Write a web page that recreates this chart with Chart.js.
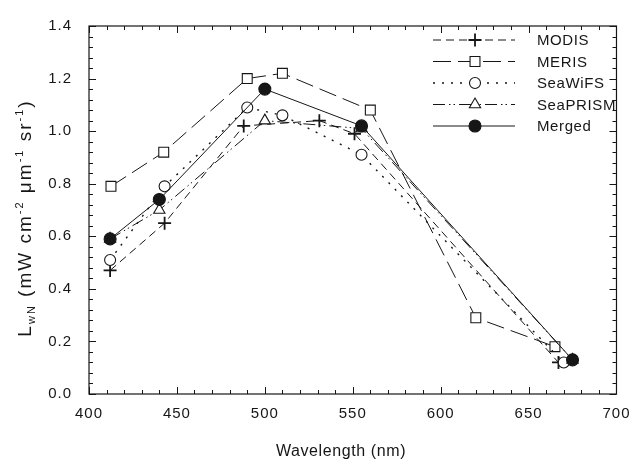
<!DOCTYPE html>
<html>
<head>
<meta charset="utf-8">
<script src="https://cdn.jsdelivr.net/npm/chart.js@4.4.1/dist/chart.umd.min.js"></script>
<style>
  html, body { margin: 0; padding: 0; background: #fff; }
  #wrap { width: 640px; height: 459px; position: relative; }
</style>
</head>
<body>
<div id="wrap"><canvas id="chart"></canvas></div>
<script>
// wavelengths (nm) and normalized water-leaving radiance per sensor
const modisWl = [412, 443, 488, 531, 551, 667];
const modisVal = [0.47, 0.65, 1.02, 1.04, 0.99, 0.12];
const merisWl = [412.5, 442.5, 490, 510, 560, 620, 665];
const merisVal = [0.79, 0.92, 1.20, 1.22, 1.08, 0.29, 0.18];
const seawifsWl = [412, 443, 490, 510, 555, 670];
const seawifsVal = [0.51, 0.79, 1.09, 1.06, 0.91, 0.12];
const seaprismWl = [412, 440, 500, 555, 675];
const seaprismVal = [0.59, 0.70, 1.04, 1.01, 0.13];
const mergedWl = [412, 440, 500, 555, 675];
const mergedVal = [0.59, 0.74, 1.16, 1.02, 0.13];

const xTicks = [400, 450, 500, 550, 600, 650, 700];
const yTicks = [0.0, 0.2, 0.4, 0.6, 0.8, 1.0, 1.2, 1.4];

const INK = '#161616';
const FONT = '"Liberation Sans", Arial, sans-serif';

function pts(wl, val) {
  return wl.map((w, i) => ({ x: w, y: val[i] }));
}

function series(label, wl, val, dash, width, style, radius, fill, order) {
  return {
    label: label,
    data: pts(wl, val),
    borderColor: INK,
    borderWidth: width,
    borderDash: dash,
    pointStyle: style,
    pointRadius: radius,
    pointBorderWidth: style === 'cross' ? 1.8 : 1.1,
    pointBorderColor: INK,
    pointBackgroundColor: fill,
    tension: 0,
    fill: false,
    order: order
  };
}

const datasets = [
  series('MODIS', modisWl, modisVal, [8, 5], 1, 'cross', 6.5, INK, 4),
  series('MERIS', merisWl, merisVal, [18, 7], 1, 'rect', 7, '#fff', 3),
  series('SeaWiFS', seawifsWl, seawifsVal, [2, 7], 1.4, 'circle', 5.5, '#fff', 2),
  series('SeaPRISM', seaprismWl, seaprismVal, [12, 4, 1.5, 3, 1.5, 4], 1, 'triangle', 6.5, '#fff', 1),
  series('Merged', mergedWl, mergedVal, [], 1, 'circle', 6, INK, 0)
];

// frame with inward major/minor ticks on all four sides
const framePlugin = {
  id: 'frame',
  beforeDraw(chart) {
    chart.ctx.letterSpacing = '1px';
  },
  beforeDatasetsDraw(chart) {
    const ctx = chart.ctx;
    const a = chart.chartArea;
    const xs = chart.scales.x;
    const ys = chart.scales.y;
    ctx.save();
    ctx.strokeStyle = INK;
    ctx.lineWidth = 1.2;
    ctx.strokeRect(a.left, a.top, a.right - a.left, a.bottom - a.top);
    ctx.lineWidth = 1;
    ctx.beginPath();
    for (let v = 400; v <= 700; v += 10) {
      const px = Math.round(xs.getPixelForValue(v)) + 0.5;
      const len = v % 50 === 0 ? 7 : 4;
      ctx.moveTo(px, a.bottom); ctx.lineTo(px, a.bottom - len);
      ctx.moveTo(px, a.top); ctx.lineTo(px, a.top + len);
    }
    for (let k = 0; k <= 35; k++) {
      const v = k * 0.04;
      const py = Math.round(ys.getPixelForValue(v)) + 0.5;
      const len = k % 5 === 0 ? 7 : 4;
      ctx.moveTo(a.left, py); ctx.lineTo(a.left + len, py);
      ctx.moveTo(a.right, py); ctx.lineTo(a.right - len, py);
    }
    ctx.stroke();
    ctx.restore();
  }
};

// legend with line samples, axis titles with sub/superscripts
const annotPlugin = {
  id: 'annot',
  afterDatasetsDraw(chart) {
    const ctx = chart.ctx;
    ctx.save();
    ctx.fillStyle = INK;
    ctx.strokeStyle = INK;

    chart.data.datasets.forEach((ds, i) => {
      const y = 40 + i * 21.5;
      ctx.lineWidth = ds.borderWidth;
      ctx.setLineDash(ds.borderDash);
      ctx.beginPath();
      ctx.moveTo(433, y);
      ctx.lineTo(515, y);
      ctx.stroke();
      ctx.setLineDash([]);
      ctx.lineWidth = ds.pointBorderWidth;
      ctx.fillStyle = ds.pointBackgroundColor;
      Chart.helpers.drawPoint(ctx, {
        pointStyle: ds.pointStyle,
        radius: ds.pointRadius,
        rotation: 0,
        borderWidth: ds.pointBorderWidth
      }, 475, y);
      ctx.fillStyle = INK;
      ctx.font = '15px ' + FONT;
      ctx.letterSpacing = '0.6px';
      ctx.textBaseline = 'middle';
      ctx.textAlign = 'left';
      ctx.fillText(ds.label, 537, y + 1);
    });

    // x title
    ctx.font = '16px ' + FONT;
    ctx.letterSpacing = '0.6px';
    ctx.textAlign = 'center';
    ctx.textBaseline = 'alphabetic';
    ctx.fillText('Wavelength (nm)', 341, 456);

    // y title
    const main = '19px ' + FONT;
    const small = '11px ' + FONT;
    const parts = [
      { t: 'L', f: main, dy: 0 },
      { t: 'wN', f: small, dy: 4 },
      { t: ' (mW cm', f: main, dy: 0 },
      { t: '-2', f: small, dy: -8 },
      { t: ' \u03bcm', f: main, dy: 0 },
      { t: '-1', f: small, dy: -8 },
      { t: ' sr', f: main, dy: 0 },
      { t: '-1', f: small, dy: -8 },
      { t: ')', f: main, dy: 0 }
    ];
    ctx.letterSpacing = '2px';
    ctx.textAlign = 'left';
    let total = 0;
    parts.forEach(p => { ctx.font = p.f; p.w = ctx.measureText(p.t).width; total += p.w; });
    ctx.translate(31, 218);
    ctx.rotate(-Math.PI / 2);
    let x = -total / 2;
    parts.forEach(p => {
      ctx.font = p.f;
      ctx.fillText(p.t, x, p.dy);
      x += p.w;
    });
    ctx.restore();
  }
};

new Chart(document.getElementById('chart'), {
  type: 'line',
  data: { datasets: datasets },
  options: {
    animation: false,
    responsive: true,
    maintainAspectRatio: false,
    layout: { padding: { left: 0, right: 14, top: 19, bottom: 0 } },
    plugins: { legend: { display: false }, tooltip: { enabled: false } },
    scales: {
      x: {
        type: 'linear',
        min: 400,
        max: 700,
        afterFit(s) { s.height = 65; },
        afterBuildTicks(s) { s.ticks = xTicks.map(v => ({ value: v })); },
        grid: { display: false, drawTicks: false },
        border: { display: false },
        ticks: { padding: 11, color: INK, font: { family: FONT, size: 15 }, maxRotation: 0 }
      },
      y: {
        min: 0,
        max: 1.4,
        afterFit(s) { s.width = 89; },
        afterBuildTicks(s) { s.ticks = yTicks.map(v => ({ value: v })); },
        grid: { display: false, drawTicks: false },
        border: { display: false },
        ticks: {
          padding: 17,
          color: INK,
          font: { family: FONT, size: 15 },
          callback: v => v.toFixed(1)
        }
      }
    }
  },
  plugins: [framePlugin, annotPlugin]
});
</script>
</body>
</html>
